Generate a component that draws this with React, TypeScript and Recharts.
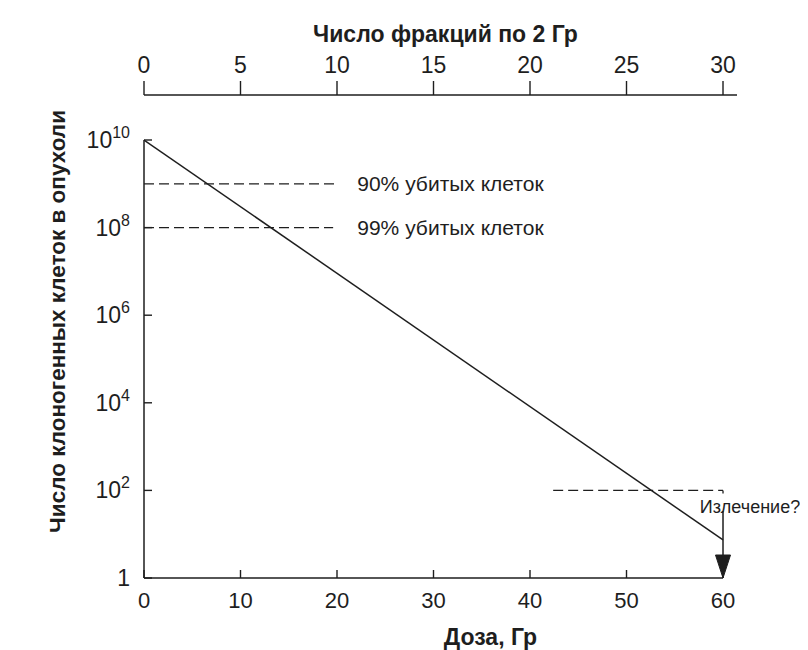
import React from 'react';
import {
  LineChart,
  Line,
  XAxis,
  YAxis,
  ReferenceLine,
  ReferenceDot,
} from 'recharts';

// ---- data ----
const doseTicks = [0, 10, 20, 30, 40, 50, 60];
const fractionTicks = [0, 5, 10, 15, 20, 25, 30];
const doseePerFraction = 2;
const cellTicks = [1, 1e2, 1e4, 1e6, 1e8, 1e10];
const survivalCurve = [
  { dose: 0, cells: 1e10 },
  { dose: 60, cells: 7.4 },
];
const killLabels = ['90% убитых клеток', '99% убитых клеток'];
const killCells = [1e9, 1e8];
const killLineEnd = [20.1, 19.6];
const killLabelDose = 22.1;
const cureCells = 100;
const cureStart = 42.4;
const cureEnd = 60;
const cureLabel = 'Излечение?';
const cureLabelDose = 57.6;
const arrowTop = 34;
const doseMax = 61.45;
const cellMax = 1.065e11;

const FONT = '"Liberation Sans", Arial, Helvetica, sans-serif';
const INK = '#1e1e1e';

const YTick = (props: any) => {
  const { x, y, payload } = props;
  const exp = Math.round(Math.log10(payload.value));
  return (
    <g>
      <line x1={x} y1={y} x2={x + 8} y2={y} stroke={INK} strokeWidth={1.4} />
      <text x={x - 14} y={y + 8} textAnchor="end" fontSize={23} fontFamily={FONT} fill={INK}>
        {exp === 0 ? (
          '1'
        ) : (
          <>
            <tspan>10</tspan>
            <tspan dy={-10} fontSize={16}>{exp}</tspan>
          </>
        )}
      </text>
    </g>
  );
};

const BottomTick = (props: any) => {
  const { x, y, payload } = props;
  return (
    <g>
      <line x1={x} y1={y} x2={x} y2={y - 8} stroke={INK} strokeWidth={1.4} />
      <text x={x} y={y + 30} textAnchor="middle" fontSize={22} fontFamily={FONT} fill={INK}>
        {payload.value}
      </text>
    </g>
  );
};

const TopTick = (props: any) => {
  const { x, y, payload } = props;
  return (
    <g>
      <line x1={x} y1={y} x2={x} y2={y - 14} stroke={INK} strokeWidth={1.4} />
      <text x={x} y={y - 22} textAnchor="middle" fontSize={23} fontFamily={FONT} fill={INK}>
        {payload.value / doseePerFraction}
      </text>
    </g>
  );
};

const TopTitle = (props: any) => {
  const vb = props.viewBox || { x: 136, y: 0, width: 593, height: 87 };
  return (
    <text
      x={vb.x + vb.width / 2 + 5}
      y={vb.y + 34}
      textAnchor="middle"
      fontSize={23}
      fontWeight="bold"
      fontFamily={FONT}
      fill={INK}
    >
      Число фракций по 2 Гр
    </text>
  );
};

const BottomTitle = (props: any) => {
  const vb = props.viewBox || { x: 136, y: 570, width: 593, height: 72 };
  return (
    <text
      x={vb.x + vb.width / 2 + 50}
      y={vb.y + 67}
      textAnchor="middle"
      fontSize={23}
      fontWeight="bold"
      fontFamily={FONT}
      fill={INK}
    >
      Доза, Гр
    </text>
  );
};

const LeftTitle = (props: any) => {
  const vb = props.viewBox || { x: 0, y: 87, width: 136, height: 483 };
  const cx = vb.x + 49;
  const cy = vb.y + vb.height / 2 - 15;
  return (
    <text
      x={cx}
      y={cy}
      transform={`rotate(-90, ${cx}, ${cy})`}
      textAnchor="middle"
      dominantBaseline="central"
      fontSize={22.5}
      fontWeight="bold"
      fontFamily={FONT}
      fill={INK}
    >
      Число клоногенных клеток в опухоли
    </text>
  );
};

const textShape = (label: string, dy: number, size: number) => (p: any) => (
  <text x={p.cx} y={p.cy + dy} fontSize={size} fontFamily={FONT} fill={INK}>
    {label}
  </text>
);

const arrowHead = (p: any) => (
  <path
    d={`M ${p.cx - 7.5} ${p.cy - 23} L ${p.cx + 7.5} ${p.cy - 23} L ${p.cx} ${p.cy} Z`}
    fill={INK}
    stroke={INK}
  />
);

export default function App() {
  return (
    <div style={{ width: 800, height: 642, background: '#fff' }}>
      <LineChart
        width={800}
        height={642}
        data={survivalCurve}
        margin={{ top: 0, right: 71, bottom: 0, left: 0 }}
      >
        <XAxis
          dataKey="dose"
          type="number"
          domain={[0, doseMax]}
          allowDataOverflow
          ticks={doseTicks}
          interval={0}
          height={72}
          axisLine={false}
          tickLine={false}
          tickSize={0}
          tickMargin={0}
          tick={<BottomTick />}
          label={<BottomTitle />}
        />
        <XAxis
          xAxisId="top"
          dataKey="dose"
          orientation="top"
          type="number"
          domain={[0, doseMax]}
          allowDataOverflow
          ticks={fractionTicks.map((f) => f * doseePerFraction)}
          interval={0}
          height={87}
          axisLine={{ stroke: INK, strokeWidth: 1.5 }}
          tickLine={false}
          tickSize={0}
          tickMargin={0}
          tick={<TopTick />}
          label={<TopTitle />}
        />
        <YAxis
          dataKey="cells"
          scale="log"
          type="number"
          domain={[1, cellMax]}
          allowDataOverflow
          ticks={cellTicks}
          interval={0}
          width={136}
          axisLine={false}
          tickLine={false}
          tickSize={0}
          tickMargin={0}
          tick={<YTick />}
          label={<LeftTitle />}
        />
        {/* axis lines */}
        <ReferenceLine
          segment={[{ x: 0, y: 1 }, { x: 0, y: 1e10 }]}
          stroke={INK}
          strokeWidth={1.5}
          ifOverflow="visible"
        />
        <ReferenceLine
          segment={[{ x: 0, y: 1 }, { x: 60, y: 1 }]}
          stroke={INK}
          strokeWidth={1.5}
          ifOverflow="visible"
        />
        {/* kill levels */}
        {killCells.map((c, i) => (
          <ReferenceLine
            key={'k' + i}
            segment={[{ x: 0, y: c }, { x: killLineEnd[i], y: c }]}
            stroke={INK}
            strokeWidth={1.3}
            strokeDasharray="10 5"
          />
        ))}
        {killCells.map((c, i) => (
          <ReferenceDot
            key={'kl' + i}
            x={killLabelDose}
            y={c}
            r={1}
            shape={textShape(killLabels[i], 7, 21)}
          />
        ))}
        {/* cure level */}
        <ReferenceLine
          segment={[{ x: cureStart, y: cureCells }, { x: cureEnd, y: cureCells }]}
          stroke={INK}
          strokeWidth={1.3}
          strokeDasharray="10 5"
        />
        <ReferenceLine
          segment={[{ x: cureEnd, y: cureCells }, { x: cureEnd, y: 85 }]}
          stroke={INK}
          strokeWidth={1.3}
        />
        <ReferenceDot
          x={cureLabelDose}
          y={cureCells}
          r={1}
          shape={textShape(cureLabel, 23, 18)}
          ifOverflow="visible"
        />
        {/* arrow */}
        <ReferenceLine
          segment={[{ x: 60, y: arrowTop }, { x: 60, y: 1 }]}
          stroke={INK}
          strokeWidth={1.5}
          ifOverflow="visible"
        />
        <ReferenceDot x={60} y={1} r={1} shape={arrowHead} ifOverflow="visible" />
        <Line
          dataKey="cells"
          type="linear"
          stroke={INK}
          strokeWidth={1.5}
          dot={false}
          isAnimationActive={false}
        />
      </LineChart>
    </div>
  );
}
